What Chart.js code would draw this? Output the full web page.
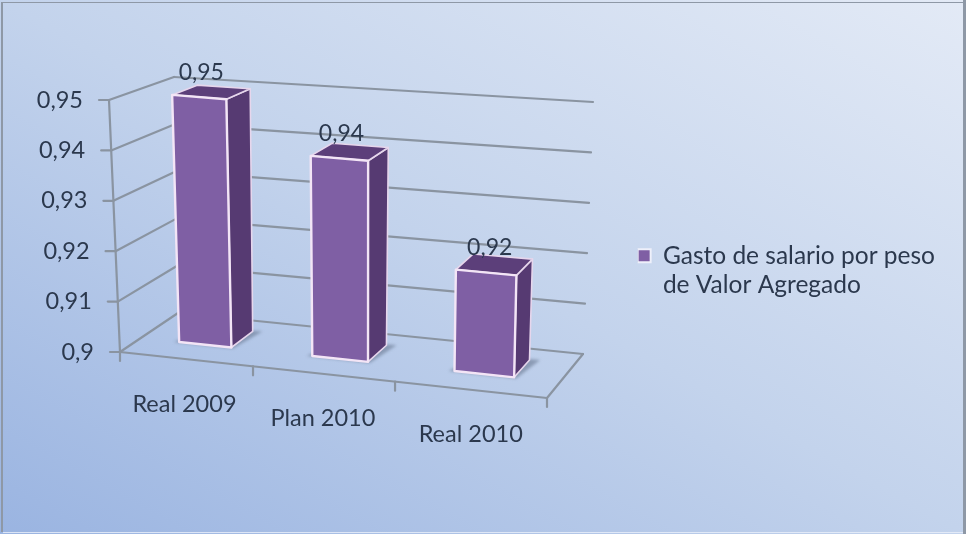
<!DOCTYPE html>
<html>
<head>
<meta charset="utf-8">
<style>
  html, body { margin: 0; padding: 0; background: #c2d2ec; }
  #wrap { width: 966px; height: 534px; }
  canvas { display: block; }
</style>
<script src="https://cdn.jsdelivr.net/npm/chart.js@4"></script>
</head>
<body>
<div id="wrap"><canvas id="chart" width="966" height="534"></canvas></div>
<script>
// Chart data
const categories = ['Real 2009', 'Plan 2010', 'Real 2010'];
const seriesName = ['Gasto de salario por peso', 'de Valor Agregado'];
const salaryPerPeso = [0.95, 0.94, 0.92];
const axisMin = 0.9;
const axisMax = 0.95;
const axisStep = 0.01;

const comma = v => String(Math.round(v * 100) / 100).replace('.', ',');

// Corners of the drawn box: [front/back][bottom/top][left/right]
const box = {
  fbl: [120, 352], fbr: [547, 398], bbl: [178, 313], bbr: [583, 354],
  ftl: [109, 100], ftr: [553, 140], btl: [174, 77],  btr: [593, 102]
};
const perspective = 0.905;    // foreshortening along the category direction
const barDepth = [0.36, 0.76];

const lerp = (a, b, t) => a + (b - a) * t;
const mix = (p, q, t) => [lerp(p[0], q[0], t), lerp(p[1], q[1], t)];

// Maps (category fraction, value fraction, depth fraction) to canvas pixels
function project(u, v, w) {
  const f = u * perspective / ((1 - u) + u * perspective);
  const front = mix(mix(box.fbl, box.fbr, f), mix(box.ftl, box.ftr, f), v);
  const back = mix(mix(box.bbl, box.bbr, f), mix(box.btl, box.btr, f), v);
  return mix(front, back, w);
}

function poly(ctx, pts) {
  ctx.beginPath();
  pts.forEach((p, i) => i ? ctx.lineTo(p[0], p[1]) : ctx.moveTo(p[0], p[1]));
  ctx.closePath();
}

function segment(ctx, a, b) {
  ctx.beginPath();
  ctx.moveTo(a[0], a[1]);
  ctx.lineTo(b[0], b[1]);
  ctx.stroke();
}

const TEXT = '#2b384d';
const GRID = '#8a94a1';
const FONT = 'Lato, sans-serif';

const slidePanel = {
  id: 'slidePanel',
  beforeDraw(chart) {
    const { ctx, width, height } = chart;
    // Diagonal wash, lightest towards the upper right
    const g = ctx.createLinearGradient(257, 676, 709, -142);
    g.addColorStop(0, '#9ab4e1');
    g.addColorStop(0.5, '#c3d3ec');
    g.addColorStop(1, '#e3eaf6');
    ctx.save();
    ctx.fillStyle = g;
    ctx.fillRect(0, 0, width, height);
    ctx.fillStyle = '#8e98a6';
    ctx.fillRect(1, 2, 2, height - 4);
    ctx.fillRect(1, 2, width - 2, 1);
    ctx.fillRect(width - 3, 0, 3, height);
    ctx.fillStyle = 'rgba(235,240,250,0.8)';
    ctx.fillRect(3, height - 2, width - 6, 1);
    ctx.restore();
  }
};

const walls = {
  id: 'walls',
  beforeDatasetsDraw(chart) {
    const { ctx, scales } = chart;
    const y = scales.y, x = scales.x, area = chart.chartArea;
    ctx.save();
    ctx.strokeStyle = GRID;
    ctx.lineWidth = 2.2;
    ctx.lineCap = 'round';

    // Value gridlines across the side and back walls, with their ticks and labels
    y.ticks.forEach(t => {
      const v = (area.bottom - y.getPixelForValue(t.value)) / area.height;
      const a = project(0, v, 0), b = project(0, v, 1), c = project(1, v, 1);
      segment(ctx, a, b);
      segment(ctx, b, c);
      segment(ctx, [a[0] - 10, a[1]], a);
      ctx.fillStyle = TEXT;
      ctx.font = '23.5px ' + FONT;
      ctx.textAlign = 'right';
      ctx.textBaseline = 'middle';
      ctx.fillText(t.label, a[0] - 26, a[1]);
    });

    // Vertical axis, floor outline and category ticks
    segment(ctx, project(0, 0, 0), project(0, 1, 0));
    segment(ctx, project(0, 0, 0), project(1, 0, 0));
    segment(ctx, project(1, 0, 0), project(1, 0, 1));
    const n = categories.length;
    for (let i = 0; i <= n; i++) {
      const p = project(i / n, 0, 0);
      segment(ctx, p, [p[0], p[1] + 9]);
    }
    ctx.fillStyle = TEXT;
    ctx.font = '23.5px ' + FONT;
    ctx.textAlign = 'center';
    ctx.textBaseline = 'middle';
    categories.forEach((name, i) => {
      const u = (x.getPixelForValue(i) - area.left) / area.width;
      const p = project(u, 0, 0);
      ctx.fillText(x.getLabelForValue(i), p[0] - 1 + i, p[1] + 45);
    });
    ctx.restore();

    // Extruded columns, positioned from the bar elements' scale-derived geometry
    const [w0, w1] = barDepth;
    const meta = chart.getDatasetMeta(0);
    meta.data.forEach((el, i) => {
      const u0 = (el.x - el.width / 2 - area.left) / area.width;
      const u1 = (el.x + el.width / 2 - area.left) / area.width;
      const v = (area.bottom - el.y) / area.height;
      const fbl = project(u0, 0, w0), fbr = project(u1, 0, w0);
      const ftl = project(u0, v, w0), ftr = project(u1, v, w0);
      const bbr = project(u1, 0, w1), btr = project(u1, v, w1), btl = project(u0, v, w1);

      ctx.save();
      ctx.filter = 'blur(1.5px)';
      ctx.fillStyle = 'rgba(105,120,145,0.6)';
      poly(ctx, [project(u0 - 0.012, 0, w0 - 0.01), project(u1 + 0.006, 0, w0 - 0.02),
                 project(u1 + 0.022, 0, w1 + 0.02), project(u0 + 0.02, 0, w1)]);
      ctx.fill();
      ctx.restore();

      ctx.save();
      ctx.lineJoin = 'round';
      ctx.fillStyle = '#563a72';
      ctx.strokeStyle = '#e6d6ec';
      ctx.lineWidth = 1.6;
      poly(ctx, [fbr, bbr, btr, ftr]);
      ctx.fill();
      ctx.stroke();
      ctx.fillStyle = '#5c3f7a';
      poly(ctx, [ftl, ftr, btr, btl]);
      ctx.fill();
      ctx.stroke();
      ctx.fillStyle = '#7f5fa4';
      ctx.strokeStyle = '#f3e5f6';
      ctx.lineWidth = 2.4;
      poly(ctx, [fbl, fbr, ftr, ftl]);
      ctx.fill();
      ctx.stroke();

      // Value label above the column, drifting with the column's height
      const top = project((u0 + u1) / 2, v, (w0 + w1) / 2);
      ctx.fillStyle = TEXT;
      ctx.font = '23px ' + FONT;
      ctx.textAlign = 'center';
      ctx.textBaseline = 'middle';
      ctx.fillText(comma(salaryPerPeso[i]), top[0] - 10 + (1 - v) * 9, top[1] - 19 + (1 - v) * 3.5);
      ctx.restore();
    });
    return false;
  }
};

new Chart(document.getElementById('chart'), {
  type: 'bar',
  data: {
    labels: categories,
    datasets: [{
      label: seriesName,
      data: salaryPerPeso,
      backgroundColor: '#7f5fa4',
      borderColor: '#eef0fa',
      borderWidth: 2,
      barPercentage: 0.4,
      categoryPercentage: 1
    }]
  },
  plugins: [slidePanel, walls],
  options: {
    responsive: false,
    animation: false,
    devicePixelRatio: 1,
    layout: { padding: { top: 11, right: 21, bottom: 0, left: 0 } },
    scales: {
      x: { display: false },
      y: {
        display: false,
        min: axisMin,
        max: axisMax,
        ticks: { stepSize: axisStep, callback: v => comma(v) }
      }
    },
    plugins: {
      tooltip: { enabled: false },
      legend: {
        display: true,
        position: 'right',
        labels: {
          color: TEXT,
          boxWidth: 13,
          boxHeight: 13,
          padding: 0,
          font: { family: FONT, size: 24.5, lineHeight: 1.18 }
        }
      }
    }
  }
});
</script>
</body>
</html>
